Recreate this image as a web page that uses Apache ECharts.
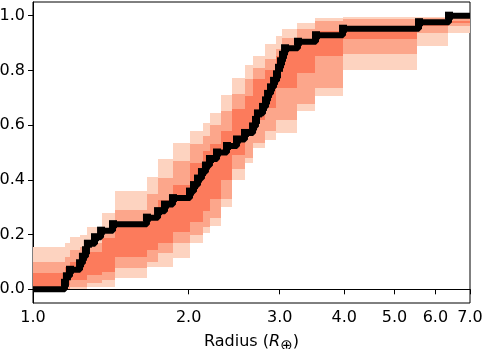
<!DOCTYPE html>
<html>
<head>
<meta charset="utf-8">
<script src="https://cdn.jsdelivr.net/npm/echarts@6/dist/echarts.min.js"></script>
<style>
  html, body { margin: 0; padding: 0; background: #fff; }
  #chart { width: 482px; height: 349px; }
</style>
</head>
<body>
<div id="chart"></div>
<script>
// sorted planet radii (Earth radii), each one is a step of the CDF
const radii = [1.153, 1.163, 1.179, 1.233, 1.249, 1.266, 1.277, 1.318, 1.354, 1.428,
  1.661, 1.745, 1.800, 1.865, 2.012, 2.048, 2.085, 2.122, 2.160, 2.199,
  2.269, 2.372, 2.480, 2.570, 2.664, 2.699, 2.723, 2.785, 2.822, 2.848,
  2.886, 2.925, 2.964, 2.990, 3.017, 3.044, 3.072, 3.254, 3.526, 3.977,
  5.578, 6.375];

// edges of the confidence band steps (radius)
const bandEdges = [1.0, 1.153, 1.179, 1.233, 1.272, 1.360, 1.441, 1.661, 1.745, 1.865,
  2.012, 2.132, 2.199, 2.310, 2.426, 2.570, 2.664, 2.810, 2.951, 3.031,
  3.240, 3.510, 3.977, 5.529, 6.347, 7.0];

// band bounds, one value per interval between edges
const lightLo = [0, 0, 0, 0, 0.01, 0.01, 0.04, 0.08, 0.08, 0.113, 0.168, 0.204, 0.23, 0.30, 0.40,
  0.46, 0.518, 0.544, 0.573, 0.573, 0.653, 0.708, 0.80, 0.89, 0.938];
const lightHi = [0.153, 0.17, 0.19, 0.20, 0.226, 0.28, 0.36, 0.41, 0.478, 0.536, 0.58, 0.606, 0.645, 0.71, 0.774,
  0.818, 0.854, 0.898, 0.927, 0.953, 0.974, 0.99, 0.995, 0.995, 1.0];
const midLo = [0, 0, 0.007, 0.007, 0.022, 0.033, 0.077, 0.099, 0.131, 0.168, 0.197, 0.226, 0.26, 0.33, 0.44,
  0.48, 0.533, 0.58, 0.617, 0.617, 0.679, 0.737, 0.861, 0.938, 0.964];
const midHi = [0.099, 0.117, 0.142, 0.155, 0.168, 0.22, 0.29, 0.35, 0.405, 0.47, 0.53, 0.562, 0.60, 0.65, 0.715,
  0.77, 0.807, 0.843, 0.88, 0.92, 0.953, 0.982, 0.989, 0.993, 1.0];
const darkLo = [0, 0.015, 0.033, 0.033, 0.051, 0.062, 0.117, 0.142, 0.17, 0.208, 0.245, 0.288, 0.33, 0.40, 0.49,
  0.58, 0.617, 0.664, 0.737, 0.737, 0.792, 0.854, 0.916, 0.964, 0.975];
const darkHi = [0.058, 0.08, 0.10, 0.125, 0.135, 0.186, 0.234, 0.263, 0.325, 0.38, 0.46, 0.504, 0.53, 0.58, 0.66,
  0.708, 0.77, 0.80, 0.854, 0.89, 0.916, 0.945, 0.964, 0.971, 0.982];

const xTicks = [1, 2, 3, 4, 5, 6, 7];
const yTicks = [0, 0.2, 0.4, 0.6, 0.8, 1.0];
const xRange = [1, 7];
const yRange = [-0.05, 1.05];

const FONT = 'DejaVu Sans';
const lg = v => Math.log10(v);

// step line: starts at the left edge, ends at the right edge
const n = radii.length;
const cdfData = [{value: [lg(xRange[0]), 0], symbol: 'none'}];
radii.forEach((r, i) => cdfData.push([lg(r), (i + 1) / n]));
cdfData.push({value: [lg(xRange[1]), 1], symbol: 'none'});

function bandSeries(lo, hi, color) {
  const data = lo.map((v, i) => [lg(bandEdges[i]), lg(bandEdges[i + 1]), v, hi[i]]);
  return {
    type: 'custom',
    data: data,
    encode: {x: [0, 1], y: [2, 3]},
    silent: true,
    clip: true,
    renderItem: (params, api) => {
      const p0 = api.coord([api.value(0), api.value(3)]);
      const p1 = api.coord([api.value(1), api.value(2)]);
      const x0 = Math.round(p0[0]), x1 = Math.round(p1[0]);
      const y0 = Math.round(p0[1]), y1 = Math.round(p1[1]);
      return {
        type: 'rect',
        shape: {x: x0, y: y0, width: x1 - x0, height: y1 - y0},
        style: {fill: color}
      };
    }
  };
}

const chart = echarts.init(document.getElementById('chart'), null, {renderer: 'canvas'});
chart.setOption({
  animation: false,
  grid: {
    left: 33, right: 12, top: 2, bottom: 46,
    outerBoundsMode: 'none', containLabel: false,
    show: true, borderColor: '#000', borderWidth: 1
  },
  xAxis: {
    type: 'value',
    min: lg(xRange[0]),
    max: lg(xRange[1]),
    splitLine: {show: false},
    axisLine: {lineStyle: {color: '#000', width: 1}},
    axisTick: {length: 5, customValues: xTicks.map(lg), lineStyle: {color: '#000'}},
    axisLabel: {
      customValues: xTicks.map(lg),
      formatter: v => Math.pow(10, v).toFixed(1),
      fontFamily: FONT, fontSize: 16, color: '#000', margin: 7
    },
    name: 'Radius ({i|R}{s|⊕})',
    nameLocation: 'middle',
    nameGap: 27,
    nameTextStyle: {
      fontFamily: FONT, fontSize: 16, color: '#000',
      rich: {
        i: {fontFamily: FONT, fontSize: 16, fontStyle: 'italic', color: '#000'},
        s: {fontFamily: FONT, fontSize: 15, color: '#000', padding: [9, 0, 0, 0]}
      }
    }
  },
  yAxis: {
    type: 'value',
    min: yRange[0],
    max: yRange[1],
    splitLine: {show: false},
    axisLine: {show: true, lineStyle: {color: '#000', width: 1}},
    axisTick: {show: true, length: 5, customValues: yTicks, lineStyle: {color: '#000'}},
    axisLabel: {
      customValues: yTicks,
      formatter: v => v.toFixed(1),
      fontFamily: FONT, fontSize: 16, color: '#000', margin: 8
    }
  },
  series: [
    bandSeries(lightLo, lightHi, '#fdd3c0'),
    bandSeries(midLo, midHi, '#fca68b'),
    bandSeries(darkLo, darkHi, '#fc7b5c'),
    {
      type: 'line',
      data: cdfData,
      step: 'end',
      symbol: 'rect',
      symbolSize: 8,
      lineStyle: {color: '#000', width: 6},
      itemStyle: {color: '#000'},
      silent: true,
      z: 5
    }
  ]
});
</script>
</body>
</html>
